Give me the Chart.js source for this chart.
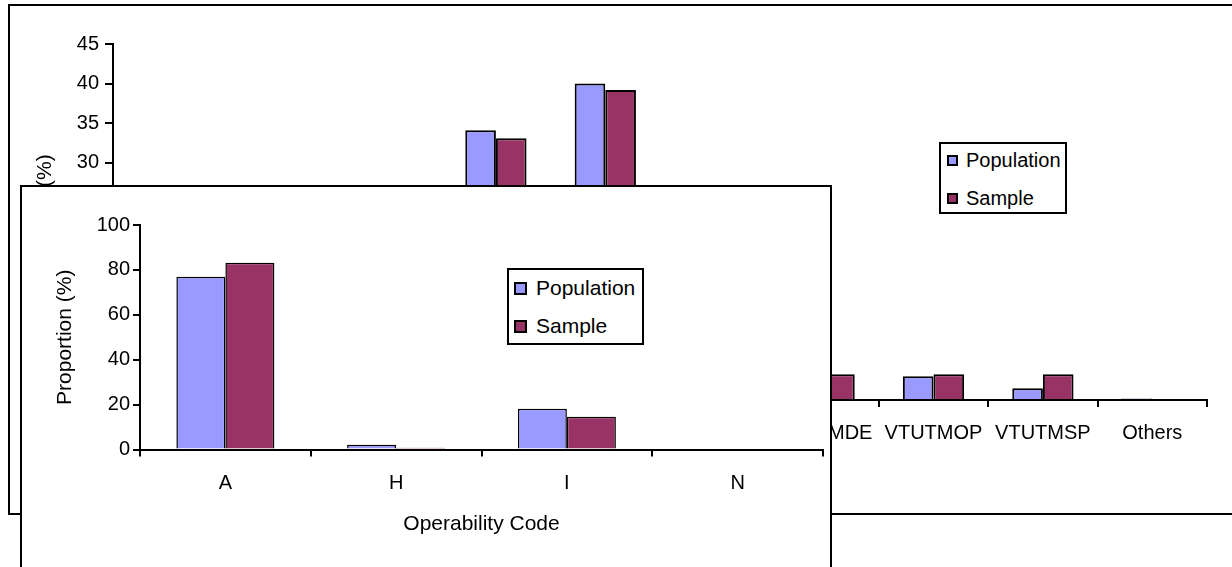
<!DOCTYPE html>
<html>
<head>
<meta charset="utf-8">
<script src="https://cdn.jsdelivr.net/npm/chart.js@4.4.0/dist/chart.umd.min.js"></script>
<style>
    body { margin: 0; width: 1232px; height: 567px; overflow: hidden; background: #fff; position: relative;
           font-family: "Liberation Sans", Arial, sans-serif; color: #000; }
    .box { position: absolute; border: 2px solid #000; box-sizing: border-box; }
    #bg-box { left: 8px; top: 4px; width: 1300px; height: 511px; }
    #bg-canvas { position: absolute; left: 0; top: 0; }
    #fg-box { left: 20px; top: 185px; width: 812px; height: 420px; background: #fff; }
    #fg-canvas { position: absolute; left: 0; top: 0; }
    .legend { position: absolute; border: 2px solid #000; background: #fff; box-sizing: border-box; }
    .legend .mark { position: absolute; border: 2px solid #000; box-sizing: border-box; }
    .legend .txt { position: absolute; line-height: 24px; white-space: nowrap; }
    #bg-legend { left: 939px; top: 142px; width: 128px; height: 72px; font-size: 20px; }
    #fg-legend { left: 507px; top: 268px; width: 137px; height: 77px; font-size: 21px; }
</style>
</head>
<body>
<div class="box" id="bg-box"></div>
<canvas id="bg-canvas" width="1232" height="567"></canvas>
<div class="legend" id="bg-legend"></div>
<div class="box" id="fg-box"><canvas id="fg-canvas" width="808" height="380"></canvas></div>
<div class="legend" id="fg-legend"></div>

<script>
// series shared by both charts
const seriesNames = ['Population', 'Sample'];
const seriesColors = ['#9999FF', '#993366'];

// chart behind (mostly covered)
const bgCategories = ['VTUTMAP', 'VTUTMBP', 'VTUTMCP', 'VTUTMDP', 'VTUTMEP', 'VTUTMFP', 'VTUTMDE', 'VTUTMOP', 'VTUTMSP', 'Others'];
const bgPopulation = [6, 4, 12, 34.1, 40.0, 8, 3.5, 3.0, 1.5, 0.2];
const bgSample = [5, 3, 11, 33.1, 39.2, 9, 3.25, 3.25, 3.25, 0];
const bgTicks = [0, 45, 5];

// chart in front
const fgCategories = ['A', 'H', 'I', 'N'];
const fgPopulation = [77.0, 2.1, 18.2, 0];
const fgSample = [83.2, 0.8, 14.6, 0];
const fgTicks = [0, 100, 20];

Chart.defaults.font.family = '"Liberation Sans", Arial, sans-serif';
Chart.defaults.color = '#000';

function axisGrid(len) {
    return { drawOnChartArea: false, color: '#000', lineWidth: 2, tickLength: len };
}

function makeChart(canvasId, labels, pop, samp, ticks, o) {
    return new Chart(document.getElementById(canvasId), {
        type: 'bar',
        data: {
            labels: labels,
            datasets: [pop, samp].map((d, i) => ({
                label: seriesNames[i],
                data: d,
                backgroundColor: seriesColors[i],
                borderColor: '#000',
                borderWidth: o.barBorder
            }))
        },
        options: {
            responsive: false,
            animation: false,
            layout: { padding: o.padding },
            datasets: { bar: { barPercentage: 1, categoryPercentage: o.catPct } },
            plugins: { legend: { display: false }, tooltip: { enabled: false } },
            scales: {
                x: {
                    grid: axisGrid(7),
                    border: { color: '#000', width: 2 },
                    ticks: { font: { size: 20 }, padding: o.xPad, maxRotation: 0, autoSkip: false },
                    title: o.xTitle,
                    afterFit(s) { s.height = o.xHeight; }
                },
                y: {
                    min: ticks[0],
                    max: ticks[1],
                    grid: axisGrid(o.yTick),
                    border: { color: '#000', width: 2 },
                    ticks: { stepSize: ticks[2], font: { size: 20 }, padding: o.yPad },
                    title: { display: true, text: 'Proportion (%)', font: { size: 21 }, padding: { top: o.yTitlePad, bottom: 0 } },
                    afterFit(s) { s.width = o.yWidth; }
                }
            }
        }
    });
}

const bgChart = makeChart('bg-canvas', bgCategories, bgPopulation, bgSample, bgTicks, {
    barBorder: 2, catPct: 0.56,
    padding: { left: 20, right: 25, top: 44, bottom: 107 },
    xPad: 14, xHeight: 60, xTitle: { display: false },
    yTick: 8, yPad: 6, yTitlePad: 12.4, yWidth: 93
});

const fgChart = makeChart('fg-canvas', fgCategories, fgPopulation, fgSample, fgTicks, {
    barBorder: 1.5, catPct: 0.574,
    padding: { left: 20, right: 7, top: 38, bottom: 27.5 },
    xPad: 15, xHeight: 90,
    xTitle: { display: true, text: 'Operability Code', font: { size: 21 }, padding: { top: 0, bottom: 2.9 } },
    yTick: 7, yPad: 3, yTitlePad: 10.4, yWidth: 98
});

// legends built from the chart datasets
function buildLegend(chart, elId, m) {
    const el = document.getElementById(elId);
    chart.data.datasets.forEach((ds, i) => {
        const mark = document.createElement('div');
        mark.className = 'mark';
        mark.style.left = m.markX + 'px';
        mark.style.top = (m.rowY[i] - m.size / 2) + 'px';
        mark.style.width = m.size + 'px';
        mark.style.height = m.size + 'px';
        mark.style.background = ds.backgroundColor;
        const txt = document.createElement('div');
        txt.className = 'txt';
        txt.style.left = m.textX + 'px';
        txt.style.top = (m.rowY[i] - 12) + 'px';
        txt.textContent = ds.label;
        el.appendChild(mark);
        el.appendChild(txt);
    });
}

buildLegend(bgChart, 'bg-legend', { markX: 6, textX: 25, size: 11, rowY: [16, 54] });
buildLegend(fgChart, 'fg-legend', { markX: 5, textX: 27, size: 13, rowY: [18, 56] });
</script>
</body>
</html>
